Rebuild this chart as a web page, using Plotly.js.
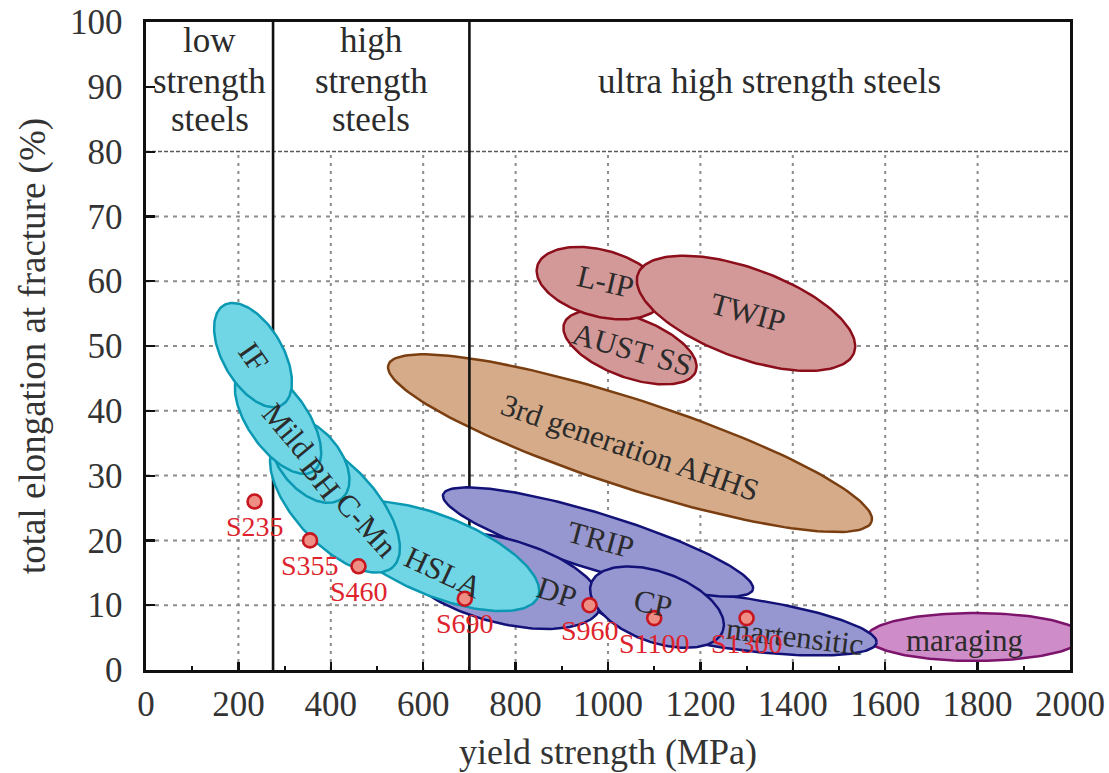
<!DOCTYPE html>
<html><head><meta charset="utf-8">
<script src="https://cdn.plot.ly/plotly-3.0.1.min.js"></script>
<style>html,body{margin:0;padding:0;background:#fff}</style>
</head><body><div id="chart" style="width:1109px;height:773px"></div>
<script>
// ---------------- data ----------------
const xTicks = [0,200,400,600,800,1000,1200,1400,1600,1800,2000];
const yTicks = [0,10,20,30,40,50,60,70,80,90,100];
const gridTop = 80;
const classBounds = [275, 700];
const classLines = [["low","strength","steels"],["high","strength","steels"],["ultra high strength steels"]];

// steel families (draw order), major axis end points in (MPa, %) and minor/major ratio
const steelNames = ["3rd generation AHHS","AUST SS","L-IP","TWIP","maraging","martensitic","TRIP","DP","CP","HSLA","C-Mn","BH","Mild","IF"];
const steelGroup = ["ahhs","aust","aust","aust","mar","blue","blue","blue","blue","cyan","cyan","cyan","cyan","cyan"];
const majorX1 = [524.7, 905.2, 846.8, 1064.7, 1560.6, 968.4, 643.1, 548.7, 963.6, 415.4, 283.5, 285.5, 208.7, 168.8];
const majorY1 = [47.1, 53.5, 62.3, 61.1, 5.1, 10.3, 27.1, 18.0, 13.4, 23.8, 35.1, 38.3, 46.4, 56.3];
const majorX2 = [1570.6, 1190.0, 1118.6, 1532.7, 2028.1, 1581.4, 1313.6, 983.8, 1248.5, 848.7, 534.6, 424.5, 362.8, 294.4];
const majorY2 = [22.9, 46.1, 57.1, 49.0, 5.1, 4.2, 12.4, 9.7, 6.0, 11.3, 15.9, 26.5, 30.7, 40.9];
const minorRatio = [0.173, 0.43, 0.51, 0.39, 0.222, 0.182, 0.173, 0.404, 0.5, 0.37, 0.47, 0.6, 0.48, 0.52];
const labelX = [1047.6, 1052, 993.5, 1303, 1772.7, 1404.8, 982.7, 889.6, 1097.4, 645, 478, 378, 307.4, 233.8];
const labelY = [34.3, 49.4, 59.9, 55.1, 4.6, 5.1, 20.1, 12.0, 10.2, 15.1, 22.3, 29.6, 37.0, 48.3];
const labelAngle = [19, 16, 13, 15, 0, 7, 15, 18, 12, 25, 48, 52, 50, 55];

// structural steel grades
const gradeNames = ["S235","S355","S460","S690","S960","S1100","S1300"];
const gradeX = [235, 355, 460, 690, 960, 1100, 1300];
const gradeY = [26, 20, 16, 11, 10, 8, 8];

// ---------------- styles ----------------
const groupStyle = {
  cyan: {fill:"rgb(112,214,230)", line:"rgb(10,152,178)"},
  blue: {fill:"rgb(150,150,208)", line:"rgb(18,18,120)"},
  ahhs: {fill:"rgb(214,171,137)", line:"rgb(122,62,16)"},
  aust: {fill:"rgb(211,152,152)", line:"rgb(140,14,26)"},
  mar:  {fill:"rgb(206,140,200)", line:"rgb(125,20,108)"}
};
const FONT = "Liberation Serif, serif";
const W = 1109, H = 773, M = {l:146, r:39, t:22, b:103};
const pw = W - M.l - M.r, ph = H - M.t - M.b;
const sx = pw / 2000, sy = ph / 100;

function ellipse(i){
  const x1 = majorX1[i]*sx, y1 = majorY1[i]*sy, x2 = majorX2[i]*sx, y2 = majorY2[i]*sy;
  const cx = (x1+x2)/2, cy = (y1+y2)/2, ux = (x2-x1)/2, uy = (y2-y1)/2;
  const vx = -uy*minorRatio[i], vy = ux*minorRatio[i];
  const xs = [], ys = [];
  for (let k = 0; k <= 160; k++){
    const t = 2*Math.PI*k/160;
    xs.push((cx + Math.cos(t)*ux + Math.sin(t)*vx)/sx);
    ys.push((cy + Math.cos(t)*uy + Math.sin(t)*vy)/sy);
  }
  return {xs, ys};
}

const traces = [];
function addSteel(i){
  const e = ellipse(i), st = groupStyle[steelGroup[i]];
  traces.push({type:"scatter", mode:"lines", x:e.xs, y:e.ys, fill:"toself",
    fillcolor:st.fill, line:{color:st.line, width:2.5}, hoverinfo:"skip", showlegend:false, name:steelNames[i]});
}
for (let i = 0; i < 4; i++) addSteel(i);
// class boundary lines
traces.push({type:"scatter", mode:"lines",
  x:[classBounds[0],classBounds[0],null,classBounds[1],classBounds[1]],
  y:[yTicks[0],yTicks[yTicks.length-1],null,yTicks[0],yTicks[yTicks.length-1]],
  line:{color:"#111", width:2.6}, hoverinfo:"skip", showlegend:false});
for (let i = 4; i < steelNames.length; i++) addSteel(i);
// grades
traces.push({type:"scatter", mode:"markers", x:gradeX, y:gradeY,
  marker:{size:14, color:"rgb(238,142,132)", line:{color:"rgb(200,22,32)", width:2.6}},
  hoverinfo:"skip", showlegend:false, cliponaxis:false});

// grid shapes
const shapes = [];
xTicks.slice(1,-1).forEach(v => shapes.push({type:"line", layer:"below", xref:"x", yref:"y",
  x0:v, x1:v, y0:0, y1:gridTop, line:{color:"rgb(140,140,140)", width:2, dash:"3px,5px"}}));
yTicks.filter(v => v > 0 && v < gridTop).forEach(v => shapes.push({type:"line", layer:"below", xref:"x", yref:"y",
  x0:0, x1:2000, y0:v, y1:v, line:{color:"rgb(140,140,140)", width:2, dash:"4px,5px"}}));
shapes.push({type:"line", layer:"below", xref:"x", yref:"y", x0:0, x1:2000, y0:gridTop, y1:gridTop,
  line:{color:"rgb(90,90,90)", width:1.5, dash:"4px,2px"}});

// annotations
const ann = [];
steelNames.forEach((n,i) => ann.push({x:labelX[i], y:labelY[i], xref:"x", yref:"y", text:n, showarrow:false,
  textangle:labelAngle[i], font:{family:FONT, size:31, color:"#2b2b2b"}}));
gradeNames.forEach((n,i) => ann.push({x:gradeX[i], y:gradeY[i], xref:"x", yref:"y", text:n, showarrow:false,
  yshift:-25, font:{family:FONT, size:28, color:"rgb(222,35,45)"}}));
const regionCenters = [(0+classBounds[0])/2, (classBounds[0]+classBounds[1])/2, (classBounds[1]+2000)/2];
const rowY3 = [97.2, 90.8, 85.0];
classLines.forEach((lines,j) => {
  lines.forEach((t,k) => {
    const y = lines.length === 3 ? rowY3[k] : rowY3[1];
    ann.push({x:regionCenters[j], y:y, xref:"x", yref:"y", text:t, showarrow:false,
      font:{family:FONT, size:35, color:"#2b2b2b"}});
  });
});

const axisCommon = {showline:true, linecolor:"#111", linewidth:2.6, mirror:true, ticks:"inside",
  tickcolor:"#111", tickwidth:2.2, showgrid:false, zeroline:false, fixedrange:true,
  tickfont:{family:FONT, size:35, color:"#333"}};

const layout = {
  width:W, height:H, margin:M, paper_bgcolor:"#fff", plot_bgcolor:"#fff",
  showlegend:false, font:{family:FONT},
  xaxis:Object.assign({}, axisCommon, {range:[0,2000], tickvals:xTicks, ticklen:8,
    ticklabelstandoff:1,
    minor:{ticks:"inside", ticklen:4, tickwidth:2, dtick:100, tick0:0, tickcolor:"#111", showgrid:false},
    title:{text:"yield strength (MPa)", font:{family:FONT, size:36, color:"#333"}, standoff:17}}),
  yaxis:Object.assign({}, axisCommon, {range:[0,100], tickvals:yTicks, ticklen:9,
    ticklabelstandoff:14,
    title:{text:"total elongation at fracture (%)", font:{family:FONT, size:37, color:"#333"}, standoff:13}}),
  shapes:shapes, annotations:ann
};
Plotly.newPlot("chart", traces, layout, {staticPlot:true, displayModeBar:false});
</script></body></html>
